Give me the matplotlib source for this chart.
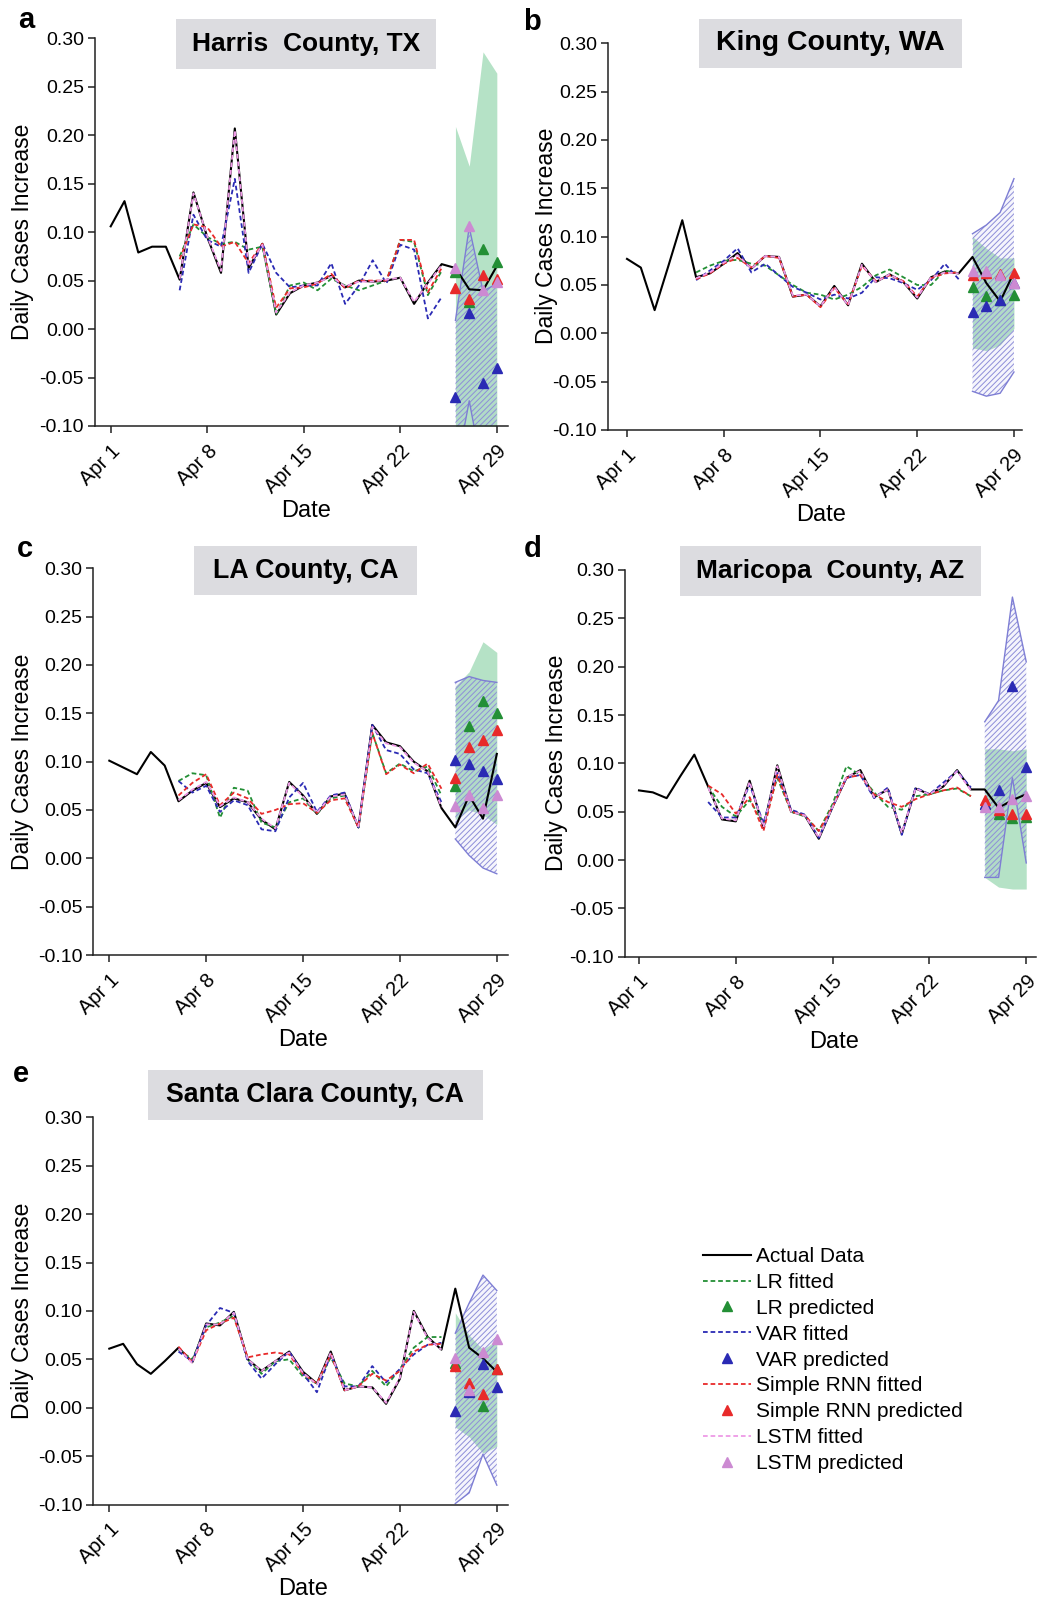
import numpy as np
import matplotlib
matplotlib.use('Agg')
import matplotlib.pyplot as plt
from matplotlib.patches import Rectangle
from matplotlib.lines import Line2D

plt.rcParams['font.family'] = ['Liberation Sans', 'DejaVu Sans']
plt.rcParams['axes.unicode_minus'] = False
plt.rcParams['hatch.linewidth'] = 0.7

W, H = 1040, 1599

# ---------------- data ----------------
days = np.arange(29)            # Apr 1 .. Apr 29
fit_days = np.arange(5, 25)     # Apr 6 .. Apr 25
pred_days = np.arange(25, 29)   # Apr 26 .. Apr 29
tick_days = [0, 7, 14, 21, 28]
tick_labels = ['Apr 1', 'Apr 8', 'Apr 15', 'Apr 22', 'Apr 29']
yticks = [-0.10, -0.05, 0.00, 0.05, 0.10, 0.15, 0.20, 0.25, 0.30]

titles = ['Harris  County, TX', 'King County, WA', 'LA County, CA',
          'Maricopa  County, AZ', 'Santa Clara County, CA']
letters = ['a', 'b', 'c', 'd', 'e']

# ---- a: Harris County, TX ----
a_actual = [0.106, 0.132, 0.079, 0.085, 0.085, 0.051, 0.141, 0.095, 0.058, 0.207,
            0.063, 0.088, 0.015, 0.037, 0.045, 0.048, 0.055, 0.043, 0.050, 0.049,
            0.050, 0.053, 0.026, 0.048, 0.067, 0.063, 0.041, 0.040, 0.065]
a_lr_fit = [0.075, 0.108, 0.095, 0.088, 0.090, 0.082, 0.085, 0.015, 0.045, 0.048,
            0.040, 0.052, 0.045, 0.040, 0.045, 0.050, 0.092, 0.090, 0.035, 0.060]
a_var_fit = [0.040, 0.118, 0.092, 0.085, 0.155, 0.058, 0.088, 0.058, 0.043, 0.045,
             0.045, 0.068, 0.026, 0.045, 0.071, 0.047, 0.087, 0.082, 0.011, 0.033]
a_rnn_fit = [0.072, 0.108, 0.105, 0.085, 0.090, 0.068, 0.088, 0.022, 0.042, 0.043,
             0.047, 0.057, 0.042, 0.050, 0.050, 0.050, 0.092, 0.092, 0.038, 0.063]
a_lstm_fit = [0.052, 0.140, 0.096, 0.060, 0.205, 0.065, 0.087, 0.017, 0.038, 0.045,
              0.048, 0.054, 0.044, 0.049, 0.049, 0.051, 0.053, 0.028, 0.047, 0.066]
a_lr_pred = [0.059, 0.028, 0.083, 0.069]
a_var_pred = [-0.070, 0.017, -0.056, -0.040]
a_rnn_pred = [0.042, 0.031, 0.056, 0.052]
a_lstm_pred = [0.063, 0.106, 0.040, 0.049]
a_lr_hi = [0.209, 0.168, 0.286, 0.264]
a_lr_lo = [-0.15, -0.15, -0.15, -0.15]
a_var_hi = [0.009, 0.105, 0.039, 0.047]
a_var_lo = [-0.15, -0.074, -0.15, -0.15]

# ---- b: King County, WA ----
b_actual = [0.077, 0.068, 0.024, 0.070, 0.117, 0.058, 0.062, 0.072, 0.083, 0.067,
            0.080, 0.079, 0.038, 0.040, 0.028, 0.049, 0.029, 0.072, 0.053, 0.061,
            0.053, 0.036, 0.058, 0.064, 0.062, 0.079, 0.052, 0.033, 0.063]
b_lr_fit = [0.063, 0.070, 0.075, 0.076, 0.072, 0.070, 0.060, 0.050, 0.042, 0.040,
            0.035, 0.040, 0.048, 0.060, 0.066, 0.058, 0.050, 0.050, 0.065, 0.062]
b_var_fit = [0.055, 0.065, 0.075, 0.088, 0.063, 0.072, 0.060, 0.048, 0.042, 0.035,
             0.040, 0.036, 0.042, 0.058, 0.057, 0.052, 0.045, 0.055, 0.072, 0.056]
b_rnn_fit = [0.056, 0.062, 0.072, 0.078, 0.068, 0.080, 0.078, 0.038, 0.040, 0.027,
             0.047, 0.030, 0.070, 0.054, 0.060, 0.054, 0.038, 0.057, 0.062, 0.063]
b_lstm_fit = [0.057, 0.063, 0.073, 0.081, 0.067, 0.080, 0.079, 0.039, 0.040, 0.028,
              0.048, 0.029, 0.071, 0.053, 0.061, 0.053, 0.037, 0.058, 0.063, 0.062]
b_lr_pred = [0.048, 0.039, 0.034, 0.040]
b_var_pred = [0.022, 0.028, 0.034, 0.052]
b_rnn_pred = [0.060, 0.062, 0.061, 0.062]
b_lstm_pred = [0.064, 0.064, 0.060, 0.052]
b_lr_hi = [0.100, 0.088, 0.078, 0.078]
b_lr_lo = [-0.015, -0.018, -0.012, 0.005]
b_var_hi = [0.103, 0.112, 0.125, 0.160]
b_var_lo = [-0.060, -0.065, -0.062, -0.040]

# ---- c: LA County, CA ----
c_actual = [0.101, 0.094, 0.087, 0.110, 0.096, 0.059, 0.070, 0.078, 0.053, 0.062,
            0.058, 0.040, 0.030, 0.079, 0.065, 0.046, 0.064, 0.067, 0.032, 0.138,
            0.120, 0.116, 0.100, 0.090, 0.052, 0.032, 0.065, 0.041, 0.108]
c_lr_fit = [0.080, 0.088, 0.086, 0.042, 0.073, 0.070, 0.037, 0.032, 0.058, 0.062,
            0.046, 0.062, 0.065, 0.032, 0.130, 0.088, 0.098, 0.090, 0.095, 0.065]
c_var_fit = [0.080, 0.068, 0.075, 0.048, 0.060, 0.055, 0.030, 0.028, 0.063, 0.078,
             0.048, 0.065, 0.068, 0.032, 0.138, 0.112, 0.108, 0.092, 0.088, 0.058]
c_rnn_fit = [0.065, 0.078, 0.087, 0.055, 0.068, 0.062, 0.046, 0.050, 0.056, 0.057,
             0.047, 0.060, 0.062, 0.032, 0.130, 0.087, 0.097, 0.088, 0.098, 0.072]
c_lstm_fit = [0.060, 0.071, 0.079, 0.054, 0.063, 0.058, 0.041, 0.031, 0.078, 0.064,
              0.047, 0.064, 0.066, 0.033, 0.136, 0.119, 0.115, 0.099, 0.090, 0.053]
c_lr_pred = [0.075, 0.137, 0.163, 0.150]
c_var_pred = [0.102, 0.098, 0.090, 0.082]
c_rnn_pred = [0.083, 0.115, 0.122, 0.133]
c_lstm_pred = [0.054, 0.065, 0.052, 0.065]
c_lr_hi = [0.178, 0.193, 0.224, 0.213]
c_lr_lo = [0.040, 0.050, 0.045, 0.035]
c_var_hi = [0.182, 0.188, 0.184, 0.182]
c_var_lo = [0.020, 0.003, -0.010, -0.016]

# ---- d: Maricopa County, AZ ----
d_actual = [0.072, 0.070, 0.064, 0.087, 0.109, 0.076, 0.042, 0.040, 0.082, 0.033,
            0.098, 0.050, 0.046, 0.022, 0.055, 0.085, 0.093, 0.065, 0.073, 0.027,
            0.074, 0.068, 0.076, 0.093, 0.073, 0.073, 0.054, 0.062, 0.068]
d_lr_fit = [0.076, 0.055, 0.045, 0.062, 0.038, 0.085, 0.050, 0.045, 0.030, 0.058,
            0.097, 0.088, 0.070, 0.055, 0.052, 0.066, 0.068, 0.072, 0.074, 0.066]
d_var_fit = [0.060, 0.044, 0.044, 0.078, 0.038, 0.090, 0.052, 0.047, 0.023, 0.055,
             0.085, 0.088, 0.064, 0.075, 0.026, 0.075, 0.068, 0.080, 0.092, 0.075]
d_rnn_fit = [0.077, 0.068, 0.048, 0.065, 0.030, 0.088, 0.050, 0.046, 0.030, 0.055,
             0.085, 0.088, 0.068, 0.060, 0.055, 0.063, 0.068, 0.072, 0.075, 0.066]
d_lstm_fit = [0.075, 0.043, 0.041, 0.081, 0.034, 0.097, 0.050, 0.046, 0.023, 0.055,
              0.086, 0.092, 0.065, 0.073, 0.028, 0.074, 0.068, 0.077, 0.092, 0.072]
d_lr_pred = [0.058, 0.048, 0.043, 0.045]
d_var_pred = [0.058, 0.072, 0.180, 0.096]
d_rnn_pred = [0.062, 0.052, 0.048, 0.048]
d_lstm_pred = [0.055, 0.055, 0.063, 0.066]
d_lr_hi = [0.115, 0.115, 0.113, 0.115]
d_lr_lo = [-0.018, -0.028, -0.030, -0.030]
d_var_hi = [0.143, 0.165, 0.272, 0.205]
d_var_lo = [-0.018, -0.018, 0.085, -0.003]

# ---- e: Santa Clara County, CA ----
e_actual = [0.061, 0.066, 0.045, 0.035, 0.048, 0.062, 0.047, 0.087, 0.085, 0.099,
            0.050, 0.038, 0.048, 0.058, 0.037, 0.025, 0.058, 0.018, 0.022, 0.021,
            0.004, 0.030, 0.100, 0.073, 0.060, 0.123, 0.062, 0.051, 0.037]
e_lr_fit = [0.060, 0.050, 0.083, 0.088, 0.095, 0.050, 0.035, 0.048, 0.050, 0.032,
            0.025, 0.052, 0.025, 0.022, 0.038, 0.022, 0.040, 0.062, 0.073, 0.073]
e_var_fit = [0.058, 0.048, 0.085, 0.103, 0.098, 0.048, 0.030, 0.045, 0.058, 0.035,
             0.016, 0.055, 0.022, 0.022, 0.043, 0.026, 0.040, 0.055, 0.065, 0.067]
e_rnn_fit = [0.063, 0.047, 0.080, 0.087, 0.093, 0.052, 0.055, 0.057, 0.055, 0.035,
             0.025, 0.055, 0.018, 0.022, 0.035, 0.028, 0.038, 0.058, 0.065, 0.066]
e_lstm_fit = [0.061, 0.046, 0.086, 0.086, 0.098, 0.050, 0.038, 0.048, 0.057, 0.036,
              0.024, 0.057, 0.018, 0.022, 0.021, 0.005, 0.031, 0.099, 0.072, 0.060]
e_lr_pred = [0.046, 0.017, 0.002, 0.040]
e_var_pred = [-0.003, 0.016, 0.045, 0.021]
e_rnn_pred = [0.043, 0.026, 0.014, 0.040]
e_lstm_pred = [0.051, 0.018, 0.058, 0.071]
e_lr_hi = [0.098, 0.075, 0.060, 0.070]
e_lr_lo = [-0.020, -0.030, -0.047, -0.040]
e_var_hi = [0.077, 0.108, 0.137, 0.121]
e_var_lo = [-0.099, -0.088, -0.048, -0.080]

# ---------------- style ----------------
C_ACT = 'black'
C_LR = '#238f35'
C_VAR = '#2a2ab4'
C_RNN = '#e82a2a'
C_LSTM = '#ee9ae6'
C_LSTM_M = '#cc8ad2'
C_BAND_G = '#addfc0'
C_HATCH = '#8e8ed8'
C_BAND_EDGE = '#7e7ed4'
DASH = (0, (2.6, 1.6))

panels = [
    dict(actual=a_actual, lr=a_lr_fit, var=a_var_fit, rnn=a_rnn_fit, lstm=a_lstm_fit,
         lrp=a_lr_pred, varp=a_var_pred, rnnp=a_rnn_pred, lstmp=a_lstm_pred,
         lrhi=a_lr_hi, lrlo=a_lr_lo, varhi=a_var_hi, varlo=a_var_lo,
         spine=95, apr1=110.7, pxd=13.79, right=508, ytop=38.3, ybot=426,
         box=(176, 19, 436, 69), tfs=19, letter=(26, 20), ylab=(23, 232), xlab=(306, 511)),
    dict(actual=b_actual, lr=b_lr_fit, var=b_var_fit, rnn=b_rnn_fit, lstm=b_lstm_fit,
         lrp=b_lr_pred, varp=b_var_pred, rnnp=b_rnn_pred, lstmp=b_lstm_pred,
         lrhi=b_lr_hi, lrlo=b_lr_lo, varhi=b_var_hi, varlo=b_var_lo,
         spine=608, apr1=627, pxd=13.82, right=1022, ytop=43.3, ybot=430,
         box=(699, 19, 962, 68), tfs=20.5, letter=(532, 22), ylab=(547, 236), xlab=(821, 515)),
    dict(actual=c_actual, lr=c_lr_fit, var=c_var_fit, rnn=c_rnn_fit, lstm=c_lstm_fit,
         lrp=c_lr_pred, varp=c_var_pred, rnnp=c_rnn_pred, lstmp=c_lstm_pred,
         lrhi=c_lr_hi, lrlo=c_lr_lo, varhi=c_var_hi, varlo=c_var_lo,
         spine=93.3, apr1=109.3, pxd=13.84, right=508, ytop=568.3, ybot=955,
         box=(194, 546, 417, 595), tfs=19.3, letter=(25, 549), ylab=(23, 762), xlab=(303, 1040)),
    dict(actual=d_actual, lr=d_lr_fit, var=d_var_fit, rnn=d_rnn_fit, lstm=d_lstm_fit,
         lrp=d_lr_pred, varp=d_var_pred, rnnp=d_rnn_pred, lstmp=d_lstm_pred,
         lrhi=d_lr_hi, lrlo=d_lr_lo, varhi=d_var_hi, varlo=d_var_lo,
         spine=625, apr1=639, pxd=13.83, right=1036, ytop=570, ybot=956.7,
         box=(680, 546, 981, 596), tfs=19, letter=(533, 549), ylab=(556, 763), xlab=(834, 1042)),
    dict(actual=e_actual, lr=e_lr_fit, var=e_var_fit, rnn=e_rnn_fit, lstm=e_lstm_fit,
         lrp=e_lr_pred, varp=e_var_pred, rnnp=e_rnn_pred, lstmp=e_lstm_pred,
         lrhi=e_lr_hi, lrlo=e_lr_lo, varhi=e_var_hi, varlo=e_var_lo,
         spine=93.3, apr1=109.3, pxd=13.84, right=508, ytop=1117.3, ybot=1504.5,
         box=(148, 1070, 483, 1120), tfs=19.3, letter=(21, 1074), ylab=(23, 1311), xlab=(303, 1589)),
]

fig = plt.figure(figsize=(W / 100, H / 100), dpi=100)

for i, p in enumerate(panels):
    left = p['spine'] / W
    width = (p['right'] - p['spine']) / W
    bottom = 1 - p['ybot'] / H
    height = (p['ybot'] - p['ytop']) / H
    ax = fig.add_axes([left, bottom, width, height])
    ax.set_xlim((p['spine'] - p['apr1']) / p['pxd'], (p['right'] - p['apr1']) / p['pxd'])
    ax.set_ylim(-0.10, 0.30)
    for s in ['top', 'right']:
        ax.spines[s].set_visible(False)
    for s in ['left', 'bottom']:
        ax.spines[s].set_linewidth(1.1)
        ax.spines[s].set_color('#222222')
    ax.set_xticks(tick_days)
    ax.set_xticklabels(tick_labels, rotation=45, ha='right', rotation_mode='anchor',
                       fontsize=14.5)
    ax.set_yticks(yticks)
    ax.set_yticklabels([f'{v:.2f}' for v in yticks], fontsize=14)
    ax.tick_params(direction='out', length=5, width=1.1, color='#222222', pad=3)
    ax.tick_params(axis='x', pad=6)

    # bands
    ax.fill_between(pred_days, p['lrlo'], p['lrhi'], color=C_BAND_G, alpha=0.9,
                    linewidth=0, zorder=1)
    ax.fill_between(pred_days, p['varlo'], p['varhi'], facecolor=(0.55, 0.55, 0.85, 0.08),
                    edgecolor=C_HATCH, hatch='//////', linewidth=0, zorder=2)
    ax.plot(pred_days, p['varhi'], color=C_BAND_EDGE, lw=1.0, zorder=2.5)
    ax.plot(pred_days, p['varlo'], color=C_BAND_EDGE, lw=1.0, zorder=2.5)

    # actual
    ax.plot(days, p['actual'], color=C_ACT, lw=1.5, zorder=3)
    # fitted
    ax.plot(fit_days, p['lr'], color=C_LR, lw=1.3, ls=DASH, zorder=4)
    ax.plot(fit_days, p['var'], color=C_VAR, lw=1.3, ls=DASH, zorder=4)
    ax.plot(fit_days, p['rnn'], color=C_RNN, lw=1.3, ls=DASH, zorder=4)
    ax.plot(fit_days, p['lstm'], color=C_LSTM, lw=1.3, ls=DASH, zorder=4)
    # predicted
    ms = 6.5
    ax.plot(pred_days, p['lrp'], ls='none', marker='^', ms=ms, color=C_LR, zorder=5)
    ax.plot(pred_days, p['varp'], ls='none', marker='^', ms=ms, color=C_VAR, zorder=5)
    ax.plot(pred_days, p['rnnp'], ls='none', marker='^', ms=ms, color=C_RNN, zorder=5)
    ax.plot(pred_days, p['lstmp'], ls='none', marker='^', ms=ms, color=C_LSTM_M, zorder=5)

    # title box
    x0, y0, x1, y1 = p['box']
    fig.add_artist(Rectangle((x0 / W, 1 - y1 / H), (x1 - x0) / W, (y1 - y0) / H,
                             transform=fig.transFigure, facecolor='#dcdce0',
                             edgecolor='none', zorder=6))
    fig.text((x0 + x1) / 2 / W, 1 - (y0 + y1) / 2 / H, titles[i], ha='center',
             va='center', fontsize=p['tfs'], fontweight='bold', zorder=7)
    # letter
    lx, ly = p['letter']
    fig.text(lx / W, 1 - ly / H, letters[i], ha='center', va='center', fontsize=21,
             fontweight='bold')
    # axis labels
    yx, yy = p['ylab']
    fig.text(yx / W, 1 - yy / H, 'Daily Cases Increase', rotation=90, ha='center',
             va='center', fontsize=16.5)
    xx, xy = p['xlab']
    fig.text(xx / W, 1 - xy / H, 'Date', ha='center', va='center', fontsize=17)

# legend
handles = [
    Line2D([], [], color=C_ACT, lw=1.5),
    Line2D([], [], color=C_LR, lw=1.3, ls=DASH),
    Line2D([], [], color=C_LR, ls='none', marker='^', ms=6.5),
    Line2D([], [], color=C_VAR, lw=1.3, ls=DASH),
    Line2D([], [], color=C_VAR, ls='none', marker='^', ms=6.5),
    Line2D([], [], color=C_RNN, lw=1.3, ls=DASH),
    Line2D([], [], color=C_RNN, ls='none', marker='^', ms=6.5),
    Line2D([], [], color=C_LSTM, lw=1.3, ls=DASH),
    Line2D([], [], color=C_LSTM_M, ls='none', marker='^', ms=6.5),
]
labels = ['Actual Data', 'LR fitted', 'LR predicted', 'VAR fitted', 'VAR predicted',
          'Simple RNN fitted', 'Simple RNN predicted', 'LSTM fitted', 'LSTM predicted']
fig.legend(handles, labels, loc='upper left', bbox_to_anchor=(703 / W, 1 - 1247 / H),
           frameon=False, fontsize=15, handlelength=2.3, handletextpad=0.25,
           labelspacing=0.33, borderpad=0, borderaxespad=0)

fig.savefig('out.png', dpi=100)
